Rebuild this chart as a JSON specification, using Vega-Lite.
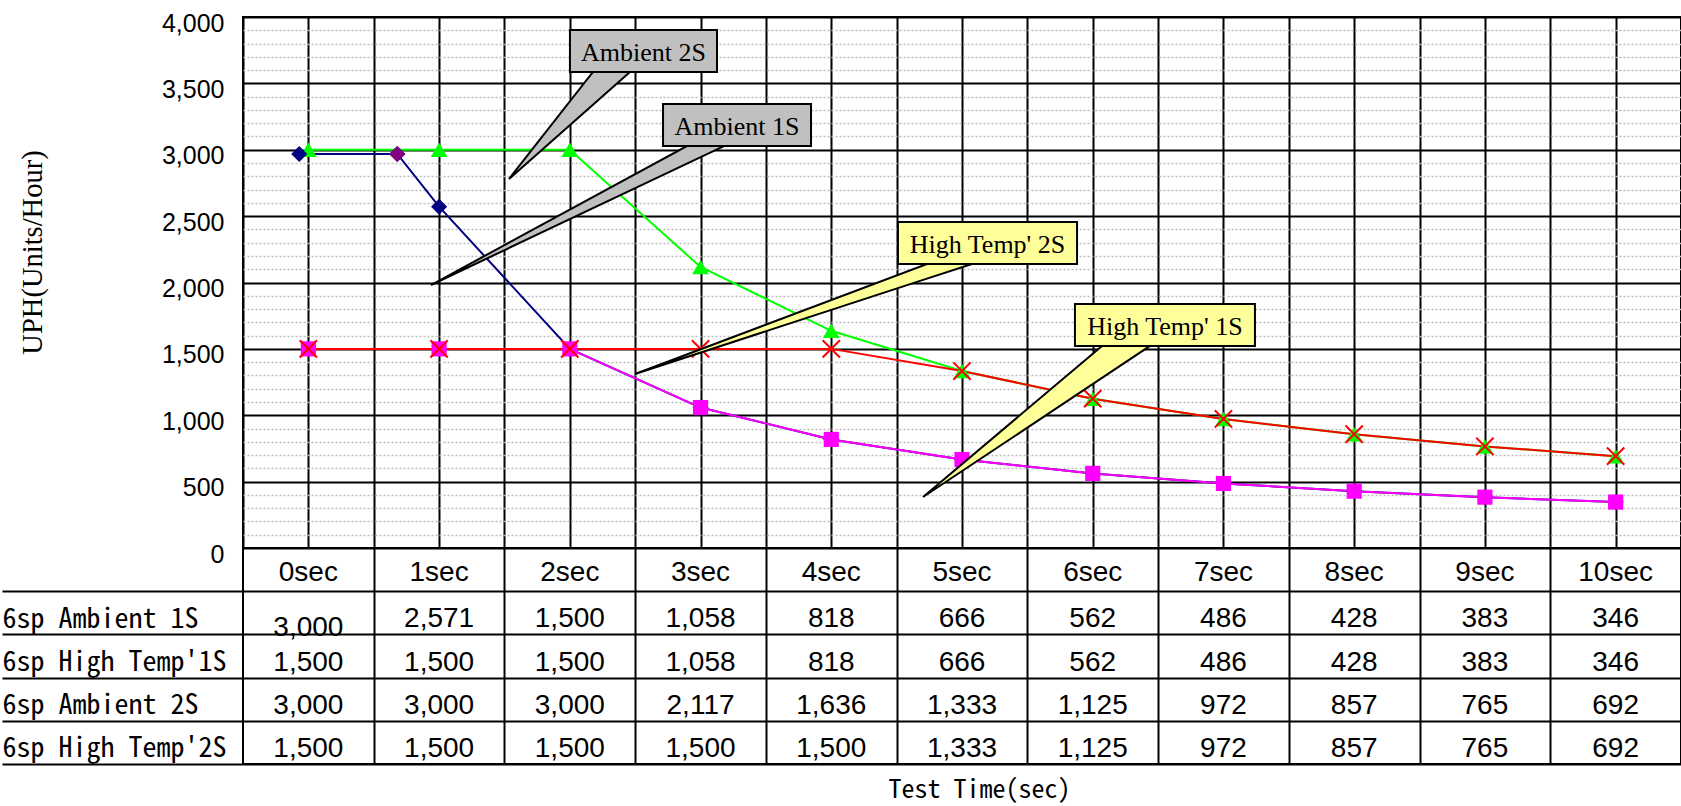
{
  "$schema": "https://vega.github.io/schema/vega-lite/v6.json",
  "padding": {"left": 0, "top": 10, "right": 0, "bottom": 0},
  "background": "white",
  "spacing": 0,
  "bounds": "flush",
  "config": {
    "view": {"stroke": "black", "strokeWidth": 2},
    "axis": {"labelColor": "black", "titleColor": "black", "titleFontWeight": "normal", "domain": false, "ticks": false}
  },
  "datasets": {
    "points": [
      {"series": "6sp Ambient 1S", "x": -0.07, "uph": 2968},
      {"series": "6sp Ambient 1S", "x": 0.68, "uph": 2968},
      {"series": "6sp Ambient 1S", "x": 1, "uph": 2571},
      {"series": "6sp Ambient 1S", "x": 2, "uph": 1500},
      {"series": "6sp Ambient 1S", "x": 3, "uph": 1058},
      {"series": "6sp Ambient 1S", "x": 4, "uph": 818},
      {"series": "6sp Ambient 1S", "x": 5, "uph": 666},
      {"series": "6sp Ambient 1S", "x": 6, "uph": 562},
      {"series": "6sp Ambient 1S", "x": 7, "uph": 486},
      {"series": "6sp Ambient 1S", "x": 8, "uph": 428},
      {"series": "6sp Ambient 1S", "x": 9, "uph": 383},
      {"series": "6sp Ambient 1S", "x": 10, "uph": 346},
      {"series": "6sp High Temp'1S", "x": 0, "uph": 1500},
      {"series": "6sp High Temp'1S", "x": 1, "uph": 1500},
      {"series": "6sp High Temp'1S", "x": 2, "uph": 1500},
      {"series": "6sp High Temp'1S", "x": 3, "uph": 1058},
      {"series": "6sp High Temp'1S", "x": 4, "uph": 818},
      {"series": "6sp High Temp'1S", "x": 5, "uph": 666},
      {"series": "6sp High Temp'1S", "x": 6, "uph": 562},
      {"series": "6sp High Temp'1S", "x": 7, "uph": 486},
      {"series": "6sp High Temp'1S", "x": 8, "uph": 428},
      {"series": "6sp High Temp'1S", "x": 9, "uph": 383},
      {"series": "6sp High Temp'1S", "x": 10, "uph": 346},
      {"series": "6sp Ambient 2S", "x": 0, "uph": 3000},
      {"series": "6sp Ambient 2S", "x": 1, "uph": 3000},
      {"series": "6sp Ambient 2S", "x": 2, "uph": 3000},
      {"series": "6sp Ambient 2S", "x": 3, "uph": 2117},
      {"series": "6sp Ambient 2S", "x": 4, "uph": 1636},
      {"series": "6sp Ambient 2S", "x": 5, "uph": 1333},
      {"series": "6sp Ambient 2S", "x": 6, "uph": 1125},
      {"series": "6sp Ambient 2S", "x": 7, "uph": 972},
      {"series": "6sp Ambient 2S", "x": 8, "uph": 857},
      {"series": "6sp Ambient 2S", "x": 9, "uph": 765},
      {"series": "6sp Ambient 2S", "x": 10, "uph": 692},
      {"series": "6sp High Temp'2S", "x": 0, "uph": 1500},
      {"series": "6sp High Temp'2S", "x": 1, "uph": 1500},
      {"series": "6sp High Temp'2S", "x": 2, "uph": 1500},
      {"series": "6sp High Temp'2S", "x": 3, "uph": 1500},
      {"series": "6sp High Temp'2S", "x": 4, "uph": 1500},
      {"series": "6sp High Temp'2S", "x": 5, "uph": 1333},
      {"series": "6sp High Temp'2S", "x": 6, "uph": 1125},
      {"series": "6sp High Temp'2S", "x": 7, "uph": 972},
      {"series": "6sp High Temp'2S", "x": 8, "uph": 857},
      {"series": "6sp High Temp'2S", "x": 9, "uph": 765},
      {"series": "6sp High Temp'2S", "x": 10, "uph": 692}
    ],
    "table": [
      {"series": "6sp Ambient 1S", "sec": 0, "value": 3000},
      {"series": "6sp Ambient 1S", "sec": 1, "value": 2571},
      {"series": "6sp Ambient 1S", "sec": 2, "value": 1500},
      {"series": "6sp Ambient 1S", "sec": 3, "value": 1058},
      {"series": "6sp Ambient 1S", "sec": 4, "value": 818},
      {"series": "6sp Ambient 1S", "sec": 5, "value": 666},
      {"series": "6sp Ambient 1S", "sec": 6, "value": 562},
      {"series": "6sp Ambient 1S", "sec": 7, "value": 486},
      {"series": "6sp Ambient 1S", "sec": 8, "value": 428},
      {"series": "6sp Ambient 1S", "sec": 9, "value": 383},
      {"series": "6sp Ambient 1S", "sec": 10, "value": 346},
      {"series": "6sp High Temp'1S", "sec": 0, "value": 1500},
      {"series": "6sp High Temp'1S", "sec": 1, "value": 1500},
      {"series": "6sp High Temp'1S", "sec": 2, "value": 1500},
      {"series": "6sp High Temp'1S", "sec": 3, "value": 1058},
      {"series": "6sp High Temp'1S", "sec": 4, "value": 818},
      {"series": "6sp High Temp'1S", "sec": 5, "value": 666},
      {"series": "6sp High Temp'1S", "sec": 6, "value": 562},
      {"series": "6sp High Temp'1S", "sec": 7, "value": 486},
      {"series": "6sp High Temp'1S", "sec": 8, "value": 428},
      {"series": "6sp High Temp'1S", "sec": 9, "value": 383},
      {"series": "6sp High Temp'1S", "sec": 10, "value": 346},
      {"series": "6sp Ambient 2S", "sec": 0, "value": 3000},
      {"series": "6sp Ambient 2S", "sec": 1, "value": 3000},
      {"series": "6sp Ambient 2S", "sec": 2, "value": 3000},
      {"series": "6sp Ambient 2S", "sec": 3, "value": 2117},
      {"series": "6sp Ambient 2S", "sec": 4, "value": 1636},
      {"series": "6sp Ambient 2S", "sec": 5, "value": 1333},
      {"series": "6sp Ambient 2S", "sec": 6, "value": 1125},
      {"series": "6sp Ambient 2S", "sec": 7, "value": 972},
      {"series": "6sp Ambient 2S", "sec": 8, "value": 857},
      {"series": "6sp Ambient 2S", "sec": 9, "value": 765},
      {"series": "6sp Ambient 2S", "sec": 10, "value": 692},
      {"series": "6sp High Temp'2S", "sec": 0, "value": 1500},
      {"series": "6sp High Temp'2S", "sec": 1, "value": 1500},
      {"series": "6sp High Temp'2S", "sec": 2, "value": 1500},
      {"series": "6sp High Temp'2S", "sec": 3, "value": 1500},
      {"series": "6sp High Temp'2S", "sec": 4, "value": 1500},
      {"series": "6sp High Temp'2S", "sec": 5, "value": 1333},
      {"series": "6sp High Temp'2S", "sec": 6, "value": 1125},
      {"series": "6sp High Temp'2S", "sec": 7, "value": 972},
      {"series": "6sp High Temp'2S", "sec": 8, "value": 857},
      {"series": "6sp High Temp'2S", "sec": 9, "value": 765},
      {"series": "6sp High Temp'2S", "sec": 10, "value": 692}
    ],
    "callouts": [
      {"id": "Ambient 2S", "x1": 2.001, "x2": 3.126, "y1": 3902, "y2": 3586},
      {"id": "Ambient 1S", "x1": 2.713, "x2": 3.845, "y1": 3345, "y2": 3028},
      {"id": "High Temp' 2S", "x1": 4.51, "x2": 5.88, "y1": 2456, "y2": 2139},
      {"id": "High Temp' 1S", "x1": 5.864, "x2": 7.241, "y1": 1838, "y2": 1522}
    ],
    "wedges": [
      {"id": "Ambient 2S", "x": 1.535, "y": 2780, "y2": 2780},
      {"id": "Ambient 2S", "x": 2.177, "y": 3586, "y2": 3339},
      {"id": "Ambient 2S", "x": 2.46, "y": 3586, "y2": 3586},
      {"id": "Ambient 1S", "x": 0.938, "y": 1981, "y2": 1981},
      {"id": "Ambient 1S", "x": 2.896, "y": 3028, "y2": 2896},
      {"id": "Ambient 1S", "x": 3.179, "y": 3028, "y2": 3028},
      {"id": "High Temp' 2S", "x": 2.499, "y": 1311, "y2": 1311},
      {"id": "High Temp' 2S", "x": 4.732, "y": 2139, "y2": 2029},
      {"id": "High Temp' 2S", "x": 5.076, "y": 2139, "y2": 2139},
      {"id": "High Temp' 1S", "x": 4.702, "y": 384, "y2": 384},
      {"id": "High Temp' 1S", "x": 6.071, "y": 1522, "y2": 1281},
      {"id": "High Temp' 1S", "x": 6.438, "y": 1522, "y2": 1522}
    ]
  },
  "vconcat": [
    {
      "width": 1438,
      "height": 531,
      "resolve": {"axis": {"x": "independent", "y": "independent"}},
      "layer": [
        {
          "data": {"name": "points"},
          "mark": {"type": "point", "opacity": 0},
          "encoding": {
            "x": {"field": "x", "type": "quantitative", "scale": {"domain": [-0.5, 10.5], "nice": false, "zero": false},
              "axis": {"values": [-0.5, 0, 0.5, 1, 1.5, 2, 2.5, 3, 3.5, 4, 4.5, 5, 5.5, 6, 6.5, 7, 7.5, 8, 8.5, 9, 9.5, 10, 10.5],
                "grid": true, "gridColor": "black", "gridWidth": 2, "gridOpacity": 1, "labels": false, "ticks": false, "domain": false, "title": null}},
            "y": {"field": "uph", "type": "quantitative", "scale": {"domain": [0, 4000], "nice": false, "zero": true},
              "axis": {"values": [0, 500, 1000, 1500, 2000, 2500, 3000, 3500, 4000], "format": ",.0f",
                "grid": true, "gridColor": "black", "gridWidth": 2, "gridOpacity": 1,
                "labelFont": "Liberation Sans", "labelFontSize": 25, "labelPadding": 19, "labelOffset": 6,
                "title": "UPH(Units/Hour)", "titleFont": "Liberation Serif", "titleFontSize": 28.5,
                "titleX": -211, "titleY": 235, "titleAngle": -90, "titleAlign": "center", "titleBaseline": "middle"}}
          }
        },
        {
          "data": {"name": "points"},
          "mark": {"type": "point", "opacity": 0},
          "encoding": {
            "x": {"field": "x", "type": "quantitative", "axis": null},
            "y": {"field": "uph", "type": "quantitative",
              "axis": {"orient": "right", "values": [100, 200, 300, 400, 600, 700, 800, 900, 1100, 1200, 1300, 1400, 1600, 1700, 1800, 1900, 2100, 2200, 2300, 2400, 2600, 2700, 2800, 2900, 3100, 3200, 3300, 3400, 3600, 3700, 3800, 3900],
                "grid": true, "gridColor": "#bdbdbd", "gridDash": [2, 2], "gridWidth": 1.5, "gridOpacity": 1,
                "labels": false, "ticks": false, "domain": false, "title": null}}
          }
        },
        {
          "data": {"name": "points"},
          "transform": [{"filter": {"field": "series", "equal": "6sp Ambient 1S"}}],
          "mark": {"type": "line", "color": "#000080", "strokeWidth": 2},
          "encoding": {
            "x": {"field": "x", "type": "quantitative", "axis": null},
            "y": {"field": "uph", "type": "quantitative", "axis": null}
          }
        },
        {
          "data": {"name": "points"},
          "transform": [{"filter": {"field": "series", "equal": "6sp Ambient 2S"}}],
          "mark": {"type": "line", "color": "#00ff00", "strokeWidth": 2},
          "encoding": {
            "x": {"field": "x", "type": "quantitative", "axis": null},
            "y": {"field": "uph", "type": "quantitative", "axis": null}
          }
        },
        {
          "data": {"name": "points"},
          "transform": [{"filter": {"field": "series", "equal": "6sp High Temp'1S"}}],
          "mark": {"type": "line", "color": "#ff00ff", "strokeWidth": 2},
          "encoding": {
            "x": {"field": "x", "type": "quantitative", "axis": null},
            "y": {"field": "uph", "type": "quantitative", "axis": null}
          }
        },
        {
          "data": {"name": "points"},
          "transform": [{"filter": {"field": "series", "equal": "6sp High Temp'2S"}}],
          "mark": {"type": "line", "color": "#ff0000", "strokeWidth": 2},
          "encoding": {
            "x": {"field": "x", "type": "quantitative", "axis": null},
            "y": {"field": "uph", "type": "quantitative", "axis": null}
          }
        },
        {
          "data": {"name": "points"},
          "transform": [{"filter": {"field": "series", "equal": "6sp Ambient 2S"}}],
          "mark": {"type": "point", "shape": "triangle-up", "size": 280, "filled": true, "color": "#00ff00", "opacity": 1},
          "encoding": {
            "x": {"field": "x", "type": "quantitative", "axis": null},
            "y": {"field": "uph", "type": "quantitative", "axis": null}
          }
        },
        {
          "data": {"name": "points"},
          "transform": [{"filter": {"field": "series", "equal": "6sp Ambient 1S"}}],
          "mark": {"type": "point", "shape": "diamond", "size": 260, "filled": true, "color": "#000080", "opacity": 1},
          "encoding": {
            "x": {"field": "x", "type": "quantitative", "axis": null},
            "y": {"field": "uph", "type": "quantitative", "axis": null}
          }
        },
        {
          "data": {"name": "points"},
          "transform": [{"filter": {"field": "series", "equal": "6sp Ambient 1S"}}, {"filter": {"field": "x", "equal": 0.68}}],
          "mark": {"type": "point", "shape": "diamond", "size": 260, "filled": true, "color": "#800080", "opacity": 1},
          "encoding": {
            "x": {"field": "x", "type": "quantitative", "axis": null},
            "y": {"field": "uph", "type": "quantitative", "axis": null}
          }
        },
        {
          "data": {"name": "points"},
          "transform": [{"filter": {"field": "series", "equal": "6sp High Temp'1S"}}],
          "mark": {"type": "point", "shape": "square", "size": 230, "filled": true, "color": "#ff00ff", "opacity": 1},
          "encoding": {
            "x": {"field": "x", "type": "quantitative", "axis": null},
            "y": {"field": "uph", "type": "quantitative", "axis": null}
          }
        },
        {
          "data": {"name": "points"},
          "transform": [{"filter": {"field": "series", "equal": "6sp High Temp'2S"}}],
          "mark": {"type": "point", "shape": "M-1,-1L1,1M-1,1L1,-1", "size": 300, "filled": false, "stroke": "#ff0000", "strokeWidth": 2, "opacity": 1},
          "encoding": {
            "x": {"field": "x", "type": "quantitative", "axis": null},
            "y": {"field": "uph", "type": "quantitative", "axis": null}
          }
        },
        {
          "data": {"name": "wedges"},
          "mark": {"type": "area", "stroke": "black", "strokeWidth": 2, "opacity": 1, "fillOpacity": 1},
          "encoding": {
            "x": {"field": "x", "type": "quantitative", "axis": null},
            "y": {"field": "y", "type": "quantitative", "axis": null, "stack": null},
            "y2": {"field": "y2"},
            "color": {"field": "id", "type": "nominal", "legend": null,
              "scale": {"domain": ["Ambient 2S", "Ambient 1S", "High Temp' 2S", "High Temp' 1S"], "range": ["#c0c0c0", "#c0c0c0", "#ffff99", "#ffff99"]}}
          }
        },
        {
          "data": {"name": "callouts"},
          "mark": {"type": "rect", "stroke": "black", "strokeWidth": 2, "opacity": 1},
          "encoding": {
            "x": {"field": "x1", "type": "quantitative", "axis": null},
            "x2": {"field": "x2"},
            "y": {"field": "y1", "type": "quantitative", "axis": null},
            "y2": {"field": "y2"},
            "color": {"field": "id", "type": "nominal", "legend": null,
              "scale": {"domain": ["Ambient 2S", "Ambient 1S", "High Temp' 2S", "High Temp' 1S"], "range": ["#c0c0c0", "#c0c0c0", "#ffff99", "#ffff99"]}}
          }
        },
        {
          "data": {"name": "callouts"},
          "transform": [{"calculate": "(datum.x1 + datum.x2) / 2", "as": "cx"}, {"calculate": "(datum.y1 + datum.y2) / 2", "as": "cy"}],
          "mark": {"type": "text", "font": "Liberation Serif", "fontSize": 26, "color": "black", "align": "center", "baseline": "alphabetic", "dy": 10},
          "encoding": {
            "x": {"field": "cx", "type": "quantitative", "axis": null},
            "y": {"field": "cy", "type": "quantitative", "axis": null},
            "text": {"field": "id"}
          }
        }
      ]
    },
    {
      "width": 1438,
      "height": 216,
      "resolve": {"axis": {"x": "independent", "y": "independent"}},
      "layer": [
        {
          "data": {"name": "table"},
          "transform": [{"filter": "!(datum.sec == 0 && datum.series == '6sp Ambient 1S')"}],
          "mark": {"type": "text", "font": "Liberation Sans", "fontSize": 28, "color": "black", "baseline": "alphabetic", "dy": 14.5},
          "encoding": {
            "x": {"field": "sec", "type": "quantitative", "scale": {"domain": [-0.5, 10.5], "nice": false, "zero": false},
              "axis": {"values": [0.5, 1.5, 2.5, 3.5, 4.5, 5.5, 6.5, 7.5, 8.5, 9.5],
                "grid": true, "gridColor": "black", "gridWidth": 2, "gridOpacity": 1, "labels": false, "ticks": false, "domain": false,
                "title": "Test Time(sec)", "titleFont": "Noto Sans Mono CJK KR, DejaVu Sans Mono", "titleFontSize": 26,
                "titleX": 736, "titleY": 33, "titleAlign": "center", "titleBaseline": "alphabetic"}},
            "y": {"field": "series", "type": "nominal",
              "scale": {"type": "band", "domain": ["hdr", "6sp Ambient 1S", "6sp High Temp'1S", "6sp Ambient 2S", "6sp High Temp'2S"], "paddingInner": 0, "paddingOuter": 0},
              "axis": {"values": ["6sp Ambient 1S", "6sp High Temp'1S", "6sp Ambient 2S", "6sp High Temp'2S"],
                "tickBand": "extent", "ticks": true, "tickSize": 241, "tickColor": "black", "tickWidth": 2,
                "grid": true, "gridColor": "black", "gridWidth": 2, "gridOpacity": 1, "domain": false,
                "labelAlign": "left", "labelBaseline": "alphabetic", "labelOffset": 14.5, "labelPadding": 0,
                "labelFont": "Noto Sans Mono CJK KR, DejaVu Sans Mono", "labelFontSize": 28, "labelLimit": 0, "title": null}},
            "text": {"field": "value", "type": "quantitative", "format": ","}
          }
        },
        {
          "data": {"name": "table"},
          "transform": [{"filter": "datum.sec == 0 && datum.series == '6sp Ambient 1S'"}],
          "mark": {"type": "text", "font": "Liberation Sans", "fontSize": 28, "color": "black", "baseline": "alphabetic", "dy": 23},
          "encoding": {
            "x": {"field": "sec", "type": "quantitative", "axis": null},
            "y": {"field": "series", "type": "nominal", "axis": null},
            "text": {"field": "value", "type": "quantitative", "format": ","}
          }
        },
        {
          "data": {"name": "table"},
          "transform": [{"filter": "datum.series == '6sp Ambient 1S'"}, {"calculate": "datum.sec + 'sec'", "as": "label"}],
          "mark": {"type": "text", "font": "Liberation Sans", "fontSize": 28, "color": "black", "baseline": "alphabetic", "dy": 11.5},
          "encoding": {
            "x": {"field": "sec", "type": "quantitative", "axis": null},
            "y": {"datum": "hdr", "type": "nominal", "axis": null},
            "text": {"field": "label"}
          }
        }
      ]
    }
  ]
}
